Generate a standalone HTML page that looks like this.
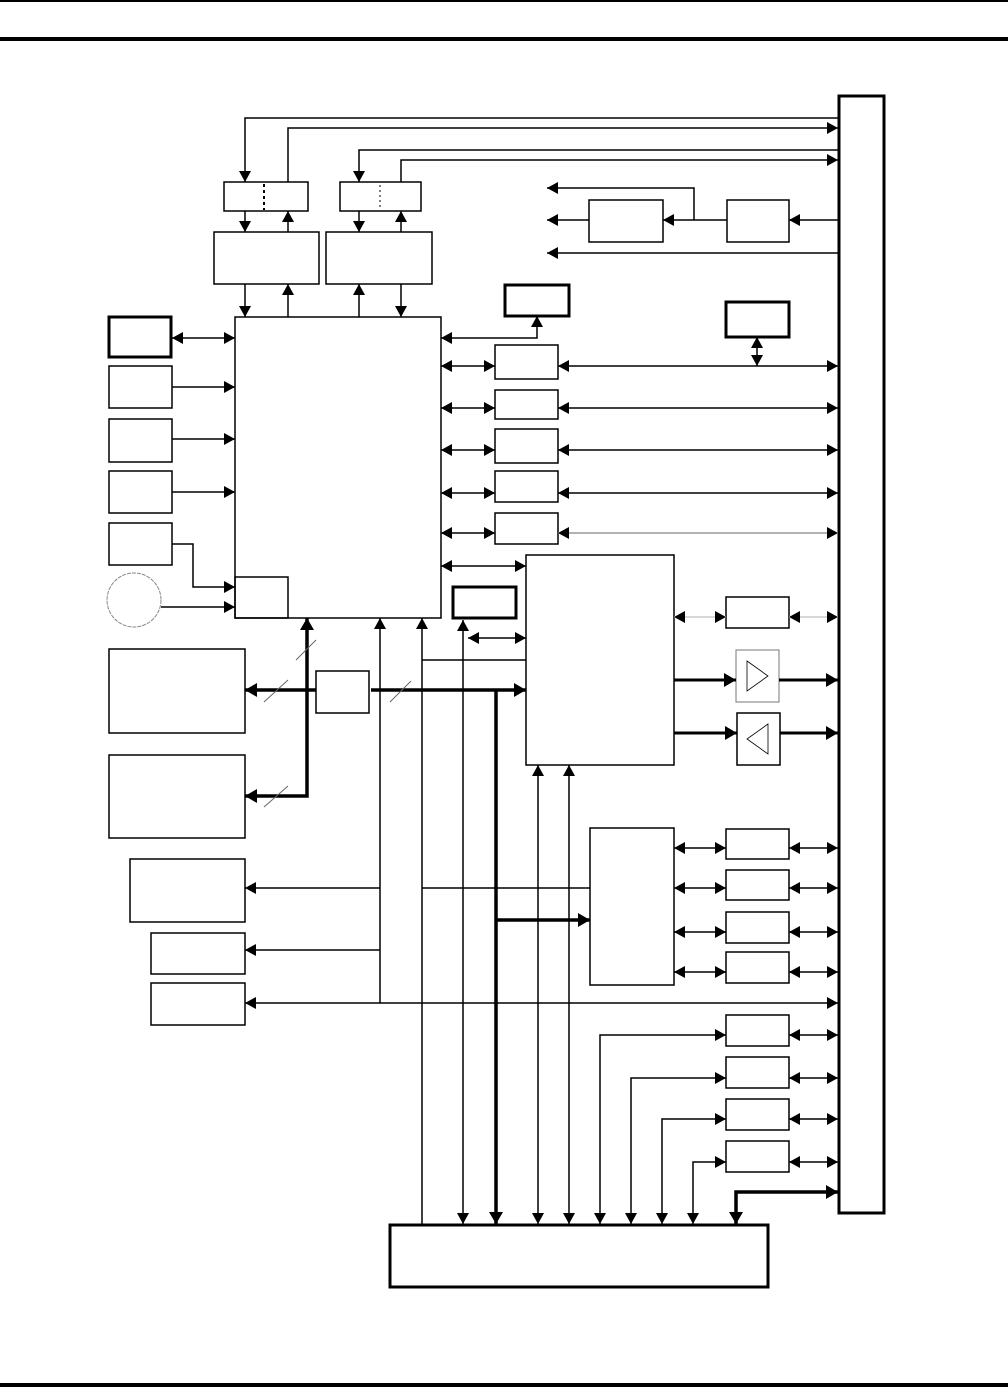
<!DOCTYPE html>
<html><head><meta charset="utf-8"><style>
html,body{margin:0;padding:0;background:#fff;}
svg{display:block;}
</style></head><body>
<svg width="1008" height="1389" viewBox="0 0 1008 1389" xmlns="http://www.w3.org/2000/svg">
<defs>
<marker id="a" markerUnits="userSpaceOnUse" markerWidth="12" markerHeight="12" refX="11" refY="6" orient="auto-start-reverse"><path d="M0,0 L11,6 L0,12 z" fill="#000"/></marker>
<marker id="b" markerUnits="userSpaceOnUse" markerWidth="14" markerHeight="14" refX="12" refY="7" orient="auto-start-reverse"><path d="M0,0 L12,7 L0,14 z" fill="#000"/></marker>
<marker id="g" markerUnits="userSpaceOnUse" markerWidth="12" markerHeight="12" refX="11" refY="6" orient="auto-start-reverse"><path d="M0,0 L11,6 L0,12 z" fill="#000"/></marker>
</defs>
<rect width="1008" height="1389" fill="#fff"/>
<!-- page rules -->
<rect x="0" y="0" width="1008" height="2" fill="#000"/>
<rect x="0" y="37" width="1008" height="4" fill="#000"/>
<rect x="0" y="1383" width="1008" height="4" fill="#000"/>

<g fill="none" stroke="#000" stroke-width="1.5">
<!-- right bus -->
<rect x="839" y="96" width="45" height="1117" stroke-width="3"/>

<!-- top feeds -->
<polyline points="838,118 245,118 245,182" marker-end="url(#a)"/>
<polyline points="288,182 288,128 838,128" marker-end="url(#a)"/>
<polyline points="838,150 359,150 359,182" marker-end="url(#a)"/>
<polyline points="401,182 401,160 838,160" marker-end="url(#a)"/>
<rect x="224" y="182" width="84" height="29"/>
<rect x="340" y="182" width="81" height="29"/>
<line x1="264" y1="184" x2="264" y2="210" stroke-width="2" stroke-dasharray="3,3"/>
<line x1="380" y1="185" x2="380" y2="209" stroke-width="1" stroke-dasharray="2,3"/>
<line x1="245" y1="211" x2="245" y2="232" marker-end="url(#a)"/>
<line x1="288" y1="232" x2="288" y2="211" marker-end="url(#a)"/>
<line x1="359" y1="211" x2="359" y2="232" marker-end="url(#a)"/>
<line x1="401" y1="232" x2="401" y2="211" marker-end="url(#a)"/>
<rect x="214" y="232" width="105" height="52"/>
<rect x="326" y="232" width="106" height="52"/>
<line x1="245" y1="284" x2="245" y2="317" marker-end="url(#a)"/>
<line x1="288" y1="317" x2="288" y2="284" marker-end="url(#a)"/>
<line x1="359" y1="317" x2="359" y2="284" marker-end="url(#a)"/>
<line x1="401" y1="284" x2="401" y2="317" marker-end="url(#a)"/>

<!-- main block -->
<rect x="235" y="317" width="206" height="301"/>
<rect x="235" y="577" width="53" height="41"/>

<!-- left inputs -->
<rect x="109" y="317" width="62" height="40" stroke-width="3"/>
<line x1="172" y1="338" x2="235" y2="338" marker-start="url(#a)" marker-end="url(#a)"/>
<rect x="109" y="366" width="63" height="42"/>
<line x1="172" y1="387" x2="235" y2="387" marker-end="url(#a)"/>
<rect x="109" y="419" width="63" height="43"/>
<line x1="172" y1="439" x2="235" y2="439" marker-end="url(#a)"/>
<rect x="109" y="471" width="63" height="42"/>
<line x1="172" y1="492" x2="235" y2="492" marker-end="url(#a)"/>
<rect x="109" y="523" width="63" height="42"/>
<polyline points="172,544 193,544 193,587 235,587" marker-end="url(#a)"/>
<circle cx="134" cy="600" r="27" stroke="#888" stroke-width="1" stroke-dasharray="4,1"/>
<line x1="161" y1="607" x2="235" y2="607" marker-end="url(#a)"/>

<!-- right of main -->
<rect x="505" y="285" width="64" height="31" stroke-width="3"/>
<polyline points="441,338 537,338 537,316" marker-start="url(#a)" marker-end="url(#a)"/>
<rect x="495" y="345" width="63" height="34"/>
<rect x="495" y="390" width="63" height="29"/>
<rect x="495" y="429" width="63" height="34"/>
<rect x="495" y="471" width="63" height="31"/>
<rect x="495" y="513" width="63" height="31"/>
<line x1="441" y1="366" x2="495" y2="366" marker-start="url(#a)" marker-end="url(#a)"/>
<line x1="441" y1="408" x2="495" y2="408" marker-start="url(#a)" marker-end="url(#a)"/>
<line x1="441" y1="450" x2="495" y2="450" marker-start="url(#a)" marker-end="url(#a)"/>
<line x1="441" y1="493" x2="495" y2="493" marker-start="url(#a)" marker-end="url(#a)"/>
<line x1="441" y1="533" x2="495" y2="533" marker-start="url(#a)" marker-end="url(#a)"/>
<line x1="558" y1="366" x2="838" y2="366" marker-start="url(#a)" marker-end="url(#a)"/>
<line x1="558" y1="408" x2="838" y2="408" marker-start="url(#a)" marker-end="url(#a)"/>
<line x1="558" y1="450" x2="838" y2="450" marker-start="url(#a)" marker-end="url(#a)"/>
<line x1="558" y1="493" x2="838" y2="493" marker-start="url(#a)" marker-end="url(#a)"/>
<line x1="558" y1="533" x2="838" y2="533" stroke="#999" marker-start="url(#a)" marker-end="url(#a)"/>
<rect x="726" y="302" width="63" height="35" stroke-width="3"/>
<line x1="757" y1="337" x2="757" y2="366" marker-start="url(#a)" marker-end="url(#a)"/>

<!-- top right -->
<rect x="589" y="200" width="74" height="42"/>
<rect x="727" y="200" width="62" height="42"/>
<line x1="838" y1="220" x2="789" y2="220" marker-end="url(#a)"/>
<line x1="727" y1="220" x2="663" y2="220" marker-end="url(#a)"/>
<polyline points="694,220 694,188 547,188" marker-end="url(#a)"/>
<line x1="589" y1="220" x2="547" y2="220" marker-end="url(#a)"/>
<line x1="838" y1="253" x2="547" y2="253" marker-end="url(#a)"/>

<!-- right block -->
<rect x="526" y="555" width="148" height="210"/>
<line x1="441" y1="566" x2="526" y2="566" marker-start="url(#a)" marker-end="url(#a)"/>
<rect x="453" y="587" width="63" height="31" stroke-width="3"/>
<line x1="468" y1="638" x2="526" y2="638" marker-start="url(#a)" marker-end="url(#a)"/>
<line x1="422" y1="660" x2="526" y2="660"/>
<rect x="726" y="597" width="63" height="31"/>
<line x1="674" y1="617" x2="726" y2="617" stroke="#ccc" marker-start="url(#a)" marker-end="url(#a)"/>
<line x1="789" y1="617" x2="838" y2="617" stroke="#ccc" marker-start="url(#a)" marker-end="url(#a)"/>
<rect x="736" y="650" width="43" height="52" stroke="#777" stroke-width="1"/>
<polygon points="747,661 768,676 747,691" stroke-width="0.8"/>
<rect x="737" y="713" width="43" height="52"/>
<polygon points="768,724 747,739 768,754" stroke-width="0.8"/>
<line x1="674" y1="680" x2="736" y2="680" stroke-width="3" marker-end="url(#b)"/>
<line x1="779" y1="680" x2="838" y2="680" stroke-width="3" marker-end="url(#b)"/>
<line x1="674" y1="733" x2="737" y2="733" stroke-width="3" marker-end="url(#b)"/>
<line x1="780" y1="733" x2="838" y2="733" stroke-width="3" marker-end="url(#b)"/>

<!-- central bus -->
<line x1="316" y1="690" x2="245" y2="690" stroke-width="3.5" marker-end="url(#b)"/>
<rect x="316" y="671" width="53" height="42"/>
<line x1="371" y1="690" x2="526" y2="690" stroke-width="3.5" marker-end="url(#b)"/>
<polyline points="307,618 307,796 245,796" stroke-width="3.5" marker-start="url(#b)" marker-end="url(#b)"/>
<g stroke="#666" stroke-width="1">
<line x1="296" y1="660" x2="316" y2="640"/>
<line x1="264" y1="702" x2="288" y2="680"/>
<line x1="390" y1="702" x2="411" y2="681"/>
<line x1="264" y1="807" x2="288" y2="786"/>
</g>
<rect x="109" y="649" width="136" height="84"/>
<rect x="109" y="755" width="136" height="83"/>

<!-- verticals -->
<line x1="380" y1="1003" x2="380" y2="618" marker-end="url(#a)"/>
<line x1="422" y1="1224" x2="422" y2="618" marker-end="url(#a)"/>
<line x1="463" y1="620" x2="463" y2="1224" marker-start="url(#a)" marker-end="url(#a)"/>
<line x1="496" y1="690" x2="496" y2="1224" stroke-width="3.5" marker-end="url(#b)"/>
<line x1="496" y1="920" x2="590" y2="920" stroke-width="3.5" marker-end="url(#b)"/>
<line x1="538" y1="765" x2="538" y2="1224" marker-start="url(#a)" marker-end="url(#a)"/>
<line x1="569" y1="765" x2="569" y2="1224" marker-start="url(#a)" marker-end="url(#a)"/>

<!-- lower left -->
<rect x="130" y="859" width="115" height="63"/>
<rect x="151" y="933" width="94" height="41"/>
<rect x="151" y="983" width="94" height="42"/>
<line x1="380" y1="888" x2="245" y2="888" marker-end="url(#a)"/>
<line x1="422" y1="888" x2="590" y2="888"/>
<line x1="380" y1="950" x2="245" y2="950" marker-end="url(#a)"/>
<line x1="245" y1="1003" x2="838" y2="1003" marker-start="url(#a)" marker-end="url(#a)"/>

<!-- lower right block -->
<rect x="590" y="828" width="84" height="157"/>
<rect x="726" y="829" width="63" height="30"/>
<rect x="726" y="870" width="63" height="30"/>
<rect x="726" y="912" width="63" height="31"/>
<rect x="726" y="952" width="63" height="31"/>
<line x1="674" y1="848" x2="726" y2="848" marker-start="url(#a)" marker-end="url(#a)"/>
<line x1="674" y1="888" x2="726" y2="888" marker-start="url(#a)" marker-end="url(#a)"/>
<line x1="674" y1="932" x2="726" y2="932" marker-start="url(#a)" marker-end="url(#a)"/>
<line x1="674" y1="972" x2="726" y2="972" marker-start="url(#a)" marker-end="url(#a)"/>
<line x1="789" y1="848" x2="838" y2="848" marker-start="url(#a)" marker-end="url(#a)"/>
<line x1="789" y1="888" x2="838" y2="888" marker-start="url(#a)" marker-end="url(#a)"/>
<line x1="789" y1="932" x2="838" y2="932" marker-start="url(#a)" marker-end="url(#a)"/>
<line x1="789" y1="972" x2="838" y2="972" marker-start="url(#a)" marker-end="url(#a)"/>

<!-- bottom right boxes -->
<rect x="726" y="1015" width="63" height="31"/>
<rect x="726" y="1057" width="63" height="31"/>
<rect x="726" y="1099" width="63" height="31"/>
<rect x="726" y="1141" width="63" height="31"/>
<line x1="789" y1="1035" x2="838" y2="1035" marker-start="url(#a)" marker-end="url(#a)"/>
<line x1="789" y1="1078" x2="838" y2="1078" marker-start="url(#a)" marker-end="url(#a)"/>
<line x1="789" y1="1119" x2="838" y2="1119" marker-start="url(#a)" marker-end="url(#a)"/>
<line x1="789" y1="1162" x2="838" y2="1162" marker-start="url(#a)" marker-end="url(#a)"/>
<polyline points="600,1224 600,1035 726,1035" marker-start="url(#a)" marker-end="url(#a)"/>
<polyline points="631,1224 631,1078 726,1078" marker-start="url(#a)" marker-end="url(#a)"/>
<polyline points="662,1224 662,1119 726,1119" marker-start="url(#a)" marker-end="url(#a)"/>
<polyline points="693,1224 693,1162 726,1162" marker-start="url(#a)" marker-end="url(#a)"/>
<polyline points="736,1224 736,1192 838,1192" stroke-width="3.5" marker-start="url(#b)" marker-end="url(#b)"/>

<!-- bottom box -->
<rect x="390" y="1225" width="378" height="62" stroke-width="3"/>
</g>
</svg>
</body></html>
